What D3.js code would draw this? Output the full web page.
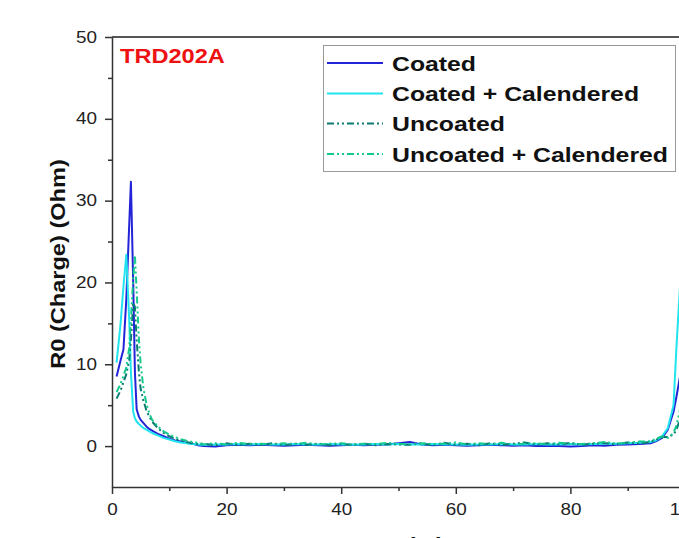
<!DOCTYPE html>
<html>
<head>
<meta charset="utf-8">
<script src="https://cdn.jsdelivr.net/npm/d3@7"></script>
<style>
  html, body { margin: 0; padding: 0; background: #fff; }
  svg { display: block; }
  text { font-family: "Liberation Sans", Arial, sans-serif; }
</style>
</head>
<body>
<svg id="chart" width="679" height="538"></svg>
<script>
// State of charge grid (%)
const soc = [
  0.8, 1.5, 2, 2.5, 3, 3.3, 3.7, 4, 4.3, 4.7, 5, 5.5, 6, 6.5, 7, 8, 9, 10, 11, 12, 13, 14, 15,
  16, 18, 20, 22, 24, 26, 28, 30, 32, 34, 36, 38, 40, 42, 44, 46, 48, 50, 52, 54,
  56, 58, 60, 62, 64, 66, 68, 70, 72, 74, 76, 78, 80, 82, 84, 86, 88, 90, 92, 94,
  95, 96, 97, 98, 98.5, 99, 99.5, 100
];

// R0 during charge (Ohm) for each electrode type
const r0Coated = [
  8.5, 10.5, 11.8, 18, 27, 32.3, 20, 9, 4.5, 3.6, 3.2, 2.8, 2.4, 2.1, 1.9, 1.5, 1.2, 0.9, 0.7, 0.55, 0.4, 0.3, 0.1,
  0.0, -0.05, 0.1, 0.15, 0.1, 0.15, 0.1, 0.05, 0.1, 0.15, 0.1, 0.05, 0.1, 0.15, 0.1, 0.15, 0.2, 0.35, 0.5, 0.2,
  0.1, 0.15, 0.1, 0.05, 0.1, 0.15, 0.1, 0.05, 0.1, 0.0, 0.05, 0.0, -0.05, 0.0, 0.1, 0.05, 0.15, 0.2, 0.25, 0.35,
  0.6, 1.0, 2.0, 4.2, 6.0, 8, 10, 12
];
const r0CoatedCal = [
  10.2, 15, 19.5, 23.4, 15.5, 9, 4.2, 3.4, 3.0, 2.7, 2.5, 2.2, 2.0, 1.8, 1.6, 1.3, 1.0, 0.8, 0.6, 0.45, 0.35, 0.25, 0.2,
  0.15, 0.2, 0.2, 0.25, 0.2, 0.25, 0.2, 0.2, 0.25, 0.2, 0.2, 0.25, 0.2, 0.15, 0.2, 0.25, 0.2, 0.25, 0.2, 0.2,
  0.25, 0.2, 0.2, 0.15, 0.2, 0.2, 0.25, 0.2, 0.2, 0.25, 0.2, 0.2, 0.25, 0.2, 0.25, 0.3, 0.3, 0.35, 0.4, 0.5,
  0.7, 1.2, 2.2, 5, 12, 18, 24, 30
];
const r0Uncoated = [
  5.8, 6.8, 7.8, 8.8, 10.5, 13, 17.5, 17, 13, 9, 7, 5.5, 4.4, 3.6, 3.0, 2.2, 1.6, 1.2, 0.9, 0.7, 0.5, 0.35, 0.25,
  0.3, 0.1, 0.35, 0.1, 0.3, 0.15, 0.35, 0.1, 0.3, 0.15, 0.3, 0.1, 0.25, 0.15, 0.3, 0.1, 0.25, 0.2, 0.15, 0.35,
  0.1, 0.4, 0.15, 0.3, 0.1, 0.35, 0.15, 0.3, 0.45, 0.15, 0.35, 0.2, 0.4, 0.15, 0.3, 0.35, 0.25, 0.45, 0.3, 0.5,
  0.8, 1.1, 1.1, 1.4, 2.0, 3.0, 4.0, 5.0
];
const r0UncoatedCal = [
  6.6, 7.6, 8.6, 9.6, 12, 15.5, 20.5, 23.3, 19, 13, 10, 7, 5.2, 4.0, 3.2, 2.4, 1.8, 1.4, 1.1, 0.85, 0.65, 0.5, 0.4,
  0.2, 0.35, 0.2, 0.4, 0.25, 0.3, 0.2, 0.35, 0.25, 0.4, 0.2, 0.3, 0.35, 0.2, 0.3, 0.25, 0.4, 0.3, 0.2, 0.35,
  0.25, 0.3, 0.45, 0.2, 0.35, 0.25, 0.4, 0.2, 0.3, 0.35, 0.25, 0.4, 0.3, 0.25, 0.35, 0.5, 0.3, 0.4, 0.55, 0.6,
  0.9, 1.2, 1.0, 1.6, 2.5, 4.0, 6.0, 8.0
];

const seriesNames = ["Coated", "Coated + Calendered", "Uncoated", "Uncoated + Calendered"];
const seriesValues = [r0Coated, r0CoatedCal, r0Uncoated, r0UncoatedCal];
const seriesColors = ["#2323d8", "#22e4ee", "#0a7a72", "#14c98c"];
const seriesDash = [null, null, "7,3,2,3,2,3", "7,3,2,3,2,3"];

const xTicks = [0, 20, 40, 60, 80, 100];
const xMinorTicks = [10, 30, 50, 70, 90];
const yTicks = [0, 10, 20, 30, 40, 50];
const yMinorTicks = [5, 15, 25, 35, 45];

const title = "TRD202A";
const xLabel = "SOC (%)";
const yLabel = "R0 (Charge) (Ohm)";

// Glyphs are drawn slightly wider than the default face
const SX = 1.18;

const svg = d3.select("#chart");
const plotLeft = 112, plotRight = 685, plotTop = 37, plotBottom = 487;

const x = d3.scaleLinear().domain([0, 100]).range([plotLeft, plotRight]);
const y = d3.scaleLinear().domain([-5, 50]).range([plotBottom, plotTop]);

const axisColor = "#333";
const labelColor = "#222";

// Clip region for the curves
svg.append("defs").append("clipPath").attr("id", "plotClip")
  .append("rect").attr("x", plotLeft).attr("y", plotTop)
  .attr("width", plotRight - plotLeft).attr("height", plotBottom - plotTop);

// Curves
const line = d3.line()
  .x((d, i) => x(soc[i]))
  .y(d => y(d));

const curves = svg.append("g").attr("clip-path", "url(#plotClip)");
seriesValues.forEach((vals, k) => {
  curves.append("path")
    .datum(vals)
    .attr("fill", "none")
    .attr("stroke", seriesColors[k])
    .attr("stroke-width", 2)
    .attr("stroke-linejoin", "round")
    .attr("stroke-dasharray", seriesDash[k])
    .attr("d", line);
});

// Frame: top and right borders
svg.append("line").attr("x1", plotLeft).attr("x2", plotRight).attr("y1", plotTop).attr("y2", plotTop)
  .attr("stroke", "#555").attr("stroke-width", 2);
svg.append("line").attr("x1", plotRight).attr("x2", plotRight).attr("y1", plotTop).attr("y2", plotBottom)
  .attr("stroke", "#555").attr("stroke-width", 2);

// Minor ticks
const xMinor = svg.append("g").attr("transform", `translate(0,${plotBottom})`)
  .call(d3.axisBottom(x).tickValues(xMinorTicks).tickSize(4).tickFormat(""));
const yMinor = svg.append("g").attr("transform", `translate(${plotLeft},0)`)
  .call(d3.axisLeft(y).tickValues(yMinorTicks).tickSize(4).tickFormat(""));
[xMinor, yMinor].forEach(g => {
  g.select(".domain").remove();
  g.selectAll("line").attr("stroke", axisColor).attr("stroke-width", 1.5);
});

// Major axes
const xAxis = svg.append("g").attr("transform", `translate(0,${plotBottom})`)
  .call(d3.axisBottom(x).tickValues(xTicks).tickSize(7).tickPadding(10).tickSizeOuter(0));
const yAxis = svg.append("g").attr("transform", `translate(${plotLeft},0)`)
  .call(d3.axisLeft(y).tickValues(yTicks).tickSize(7).tickPadding(6).tickSizeOuter(0));
[xAxis, yAxis].forEach(g => {
  g.select(".domain").attr("stroke", axisColor).attr("stroke-width", 1.5);
  g.selectAll("line").attr("stroke", axisColor).attr("stroke-width", 1.5);
  g.selectAll("text")
    .attr("fill", labelColor)
    .style("font-size", "16px")
    .style("font-family", "'Liberation Sans', Arial, sans-serif");
});
xAxis.selectAll("text").attr("transform", `scale(${SX},1)`);
yAxis.selectAll("text").attr("x", -15 / SX).attr("transform", `scale(${SX},1)`);

// Axis titles
svg.append("text")
  .attr("transform", `translate(${(112 + 682) / 2},552) scale(${SX},1)`)
  .attr("text-anchor", "middle")
  .style("font-size", "20px").style("font-weight", "bold").attr("fill", "#111")
  .text(xLabel);
svg.append("text")
  .attr("transform", `translate(65,264) rotate(-90) scale(${SX},1)`)
  .attr("text-anchor", "middle")
  .style("font-size", "20px").style("font-weight", "bold").attr("fill", "#111")
  .text(yLabel);

// Sample tag
svg.append("text")
  .attr("transform", `translate(120,63) scale(${SX},1)`)
  .style("font-size", "20px").style("font-weight", "bold").attr("fill", "#ee1111")
  .text(title);

// Legend
const legend = svg.append("g");
legend.append("rect")
  .attr("x", 323.5).attr("y", 45.5).attr("width", 352).attr("height", 126)
  .attr("fill", "#fff").attr("stroke", "#999").attr("stroke-width", 1);
const rowY = [63, 93.5, 123.5, 154];
seriesNames.forEach((name, k) => {
  legend.append("line")
    .attr("x1", 327).attr("x2", 383).attr("y1", rowY[k]).attr("y2", rowY[k])
    .attr("stroke", seriesColors[k]).attr("stroke-width", 2)
    .attr("stroke-dasharray", seriesDash[k]);
  legend.append("text")
    .attr("transform", `translate(392,${rowY[k] + 7.5}) scale(${SX},1)`)
    .style("font-size", "21px").style("font-weight", "bold").attr("fill", "#111")
    .text(name);
});
</script>
</body>
</html>
